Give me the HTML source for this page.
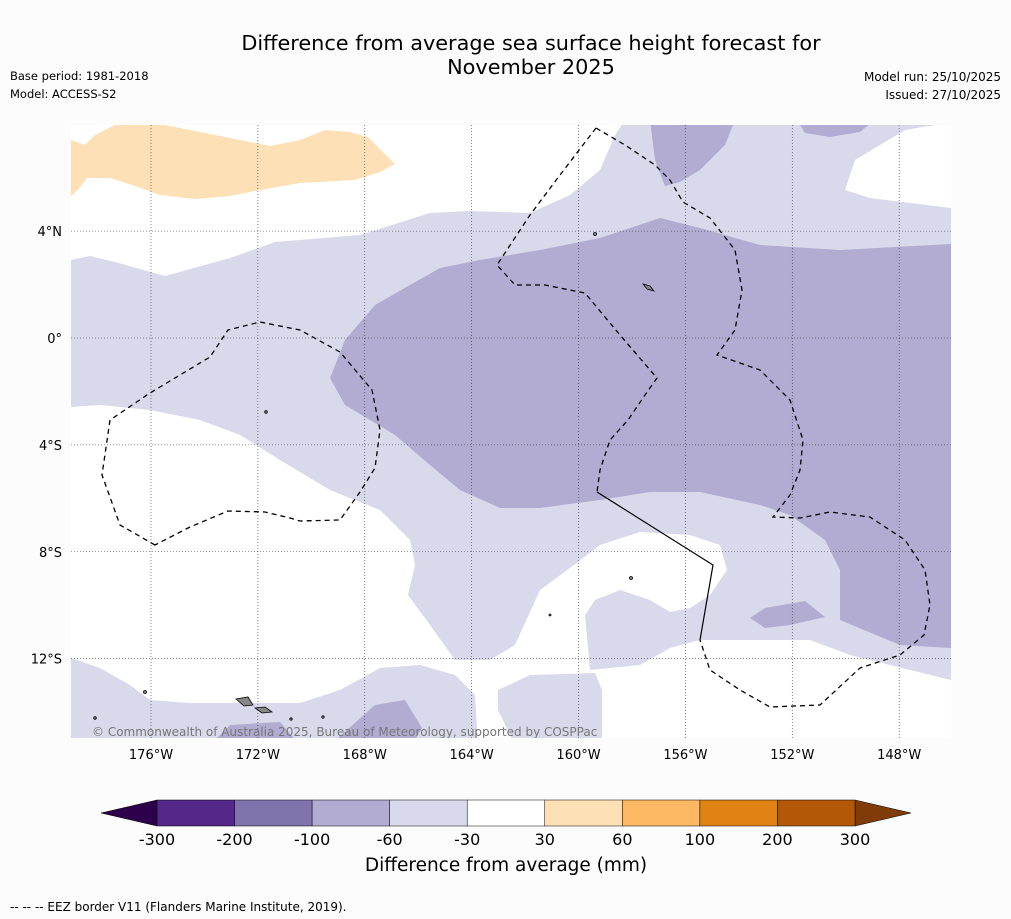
<!DOCTYPE html>
<html><head><meta charset="utf-8">
<style>
body{margin:0;background:#fcfcfc;font-family:"Liberation Sans","DejaVu Sans",sans-serif;}
svg{display:block}
text{font-family:"DejaVu Sans","Liberation Sans",sans-serif;}
</style></head>
<body>
<svg id="chart" width="1011" height="919" viewBox="0 0 1011 919" xmlns="http://www.w3.org/2000/svg">
<rect width="1011" height="919" fill="#fcfcfc"/>
<text x="531" y="50" text-anchor="middle" font-size="20.8" fill="#000">Difference from average sea surface height forecast for</text>
<text x="531" y="74" text-anchor="middle" font-size="20.8" fill="#000">November 2025</text>
<text x="10" y="80" font-size="11.5">Base period: 1981-2018</text>
<text x="10" y="98" font-size="11.5">Model: ACCESS-S2</text>
<text x="1001" y="81" font-size="12" text-anchor="end">Model run: 25/10/2025</text>
<text x="1001" y="99" font-size="12" text-anchor="end">Issued: 27/10/2025</text>
<defs><clipPath id="mapclip"><rect x="71" y="125" width="880" height="613"/></clipPath></defs>
<g clip-path="url(#mapclip)">
<rect x="71" y="125" width="880" height="613" fill="#ffffff"/>
<path fill="#d8daeb" d="M71,260 L90,256 L115,262 L165,276 L230,258 L275,242 L360,235 L430,213 L470,211 L530,213 L570,195 L600,170 L615,135 L625,120 L940,120 L935,125 L905,130 L880,145 L855,160 L845,190 L870,198 L951,208 L951,680 L890,665 L850,655 L810,640 L760,640 L700,640 L670,648 L640,665 L590,670 L585,615 L595,600 L620,590 L650,600 L670,612 L690,608 L710,595 L727,570 L720,545 L690,535 L640,532 L600,545 L570,568 L540,590 L515,645 L490,660 L455,660 L430,625 L408,595 L415,565 L410,540 L380,510 L330,490 L280,460 L240,435 L200,420 L150,410 L100,405 L71,407 Z"/>
<path fill="#d8daeb" d="M71,658 L100,668 L130,685 L150,700 L190,703 L250,703 L300,703 L340,690 L380,668 L420,665 L455,675 L475,695 L478,745 L71,745 Z"/>
<path fill="#d8daeb" d="M498,690 L530,675 L595,673 L602,690 L602,745 L515,745 L498,710 Z"/>
<path fill="#b2abd2" d="M330,378 L345,340 L375,305 L410,285 L440,268 L480,260 L540,250 L600,238 L660,218 L700,228 L760,245 L840,250 L951,244 L951,648 L900,645 L840,620 L840,570 L825,540 L790,515 L760,505 L700,492 L650,492 L600,500 L540,508 L500,508 L460,490 L430,465 L395,435 L345,405 Z"/>
<path fill="#b2abd2" d="M650,120 L735,120 L725,145 L700,170 L680,182 L665,186 L655,160 Z"/>
<path fill="#b2abd2" d="M797,120 L875,120 L860,132 L830,137 L805,133 Z"/>
<path fill="#b2abd2" d="M750,618 L765,608 L805,601 L825,617 L790,625 L765,628 Z"/>
<path fill="#b2abd2" d="M210,745 L230,725 L280,722 L300,745 Z M330,745 L375,705 L405,700 L422,728 L412,745 Z"/>
<path fill="#fee0b6" d="M71,140 L85,145 L95,135 L115,125 L165,125 L200,132 L240,140 L270,146 L300,140 L325,130 L350,132 L368,137 L395,164 L380,172 L355,180 L300,183 L260,190 L230,196 L195,199 L160,195 L135,186 L110,178 L87,178 L78,190 L71,196 Z"/>
<g id="grid"></g>
<g fill="none" stroke="#000" stroke-width="1.3" stroke-dasharray="5,4">
<path d="M155,545 L120,525 L102,475 L110,420 L150,393 L210,357 L228,330 L260,322 L300,330 L340,352 L372,390 L380,430 L375,468 L360,492 L340,520 L300,521 L290,518 L265,512 L228,511 L190,527 Z"/>
<path d="M596,128 L560,175 L530,215 L497,265 L515,285 L545,285 L585,293 L620,335 L657,378 L645,395 L628,420 L610,440 L600,470 L597,492"/>
<path d="M596,128 L625,145 L655,165 L670,180 L683,202 L710,218 L735,250 L742,290 L735,330 L717,355 L760,370 L790,400 L803,440 L800,470 L790,495 L773,517 L800,518 L830,512 L870,517 L905,540 L925,570 L930,605 L924,635 L900,655 L860,668 L820,705 L770,707 L740,690 L710,670 L700,640"/>
</g>
<path fill="none" stroke="#000" stroke-width="1.2" d="M597,492 L713,565 L700,640"/>
<g fill="#888" stroke="#000" stroke-width="0.8">
<path d="M236,699 L248,697 L253,705 L244,706 Z"/>
<path d="M255,708 L265,707 L272,712 L262,713 Z"/>
<path d="M643,284 L650,286 L654,291 L647,289 Z"/>
<circle cx="595" cy="234" r="1.5"/>
<circle cx="266" cy="412" r="1.3"/>
<circle cx="145" cy="692" r="1.5"/>
<circle cx="631" cy="578" r="1.5"/>
<circle cx="550" cy="615" r="1"/>
<circle cx="95" cy="718" r="1.3"/>
<circle cx="291" cy="719" r="1.2"/>
<circle cx="323" cy="717" r="1.2"/>
</g>
<text x="92" y="736" font-size="12" fill="#777">© Commonwealth of Australia 2025, Bureau of Meteorology, supported by COSPPac</text>
</g>
<g id="axes"></g>
<g id="colorbar"></g>
<text x="506" y="871" text-anchor="middle" font-size="18.5">Difference from average (mm)</text>
<text x="10" y="911" font-size="12">--  --  -- EEZ border V11 (Flanders Marine Institute, 2019).</text>
</svg>
<script>
const levels = [-300, -200, -100, -60, -30, 30, 60, 100, 200, 300];
const levelColors = ["#542788", "#8073ac", "#b2abd2", "#d8daeb", "#ffffff", "#fee0b6", "#fdb863", "#e08214", "#b35806"];
const extendColors = ["#2d004b", "#7f3b08"];
const lonTicks = [-176, -172, -168, -164, -160, -156, -152, -148];
const latTicks = [4, 0, -4, -8, -12];

const NS = "http://www.w3.org/2000/svg";
function xLon(lon) { return 151 + (lon + 176) * 26.72; }
function yLat(lat) { return 338 - lat * 26.72; }
function mk(tag, attrs, parent) {
  const e = document.createElementNS(NS, tag);
  for (const k in attrs) e.setAttribute(k, attrs[k]);
  parent.appendChild(e);
  return e;
}
const grid = document.getElementById('grid');
const axes = document.getElementById('axes');
lonTicks.forEach(lon => {
  const x = xLon(lon);
  const l = mk('line', {x1: x, y1: 125, x2: x, y2: 738, stroke: '#333', 'stroke-width': 0.6, 'stroke-dasharray': '1,2'}, grid);
  
  
  const t = mk('text', {x: x, y: 759, 'text-anchor': 'middle', 'font-size': 13}, axes);
  t.textContent = Math.abs(lon) + '°W';
  
  
});
latTicks.forEach(lat => {
  const y = yLat(lat);
  const l = mk('line', {x1: 71, y1: y, x2: 951, y2: y, stroke: '#333', 'stroke-width': 0.6, 'stroke-dasharray': '1,2'}, grid);
  
  
  const t = mk('text', {x: 62, y: y + 5, 'text-anchor': 'end', 'font-size': 13}, axes);
  t.textContent = lat === 0 ? '0°' : Math.abs(lat) + '°' + (lat > 0 ? 'N' : 'S');
  
  
});
const cb = document.getElementById('colorbar');
const cbX0 = 157, cbX1 = 855, cbY = 800, cbH = 26;
const segW = (cbX1 - cbX0) / levelColors.length;
function xSeg(i) { return cbX0 + i * segW; }
const lt = mk('polygon', {points: `101,813 ${cbX0},${cbY} ${cbX0},${cbY + cbH}`, fill: extendColors[0], stroke: '#000', 'stroke-width': 0.5}, cb);


const rt = mk('polygon', {points: `911,813 ${cbX1},${cbY} ${cbX1},${cbY + cbH}`, fill: extendColors[1], stroke: '#000', 'stroke-width': 0.5}, cb);


levelColors.forEach((c, i) => {
  const r = mk('rect', {x: xSeg(i), y: cbY, width: segW, height: cbH, fill: c, stroke: '#000', 'stroke-width': 0.5}, cb);
  
  
});
levels.forEach((v, i) => {
  const t = mk('text', {x: xSeg(i), y: 845, 'text-anchor': 'middle', 'font-size': 16}, cb);
  t.textContent = v;
  
  
});
</script>
</body></html>
